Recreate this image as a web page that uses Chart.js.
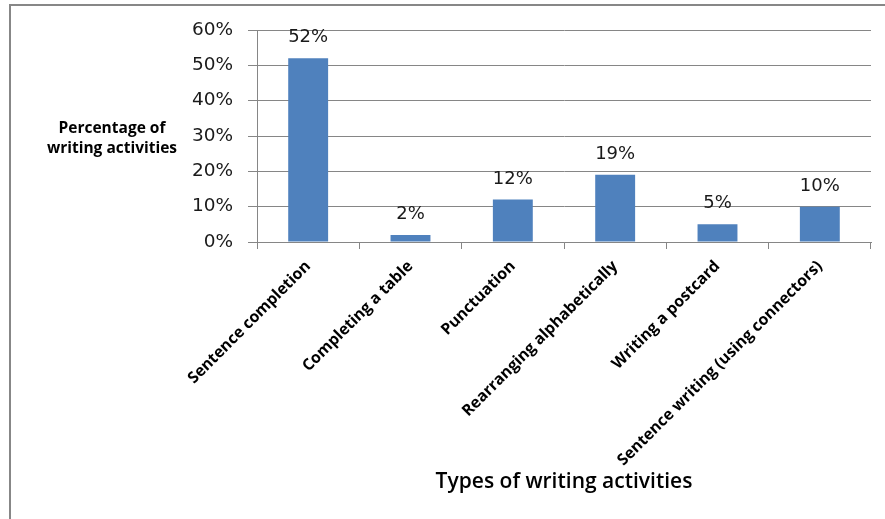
<!DOCTYPE html>
<html>
<head>
<meta charset="utf-8">
<script src="https://cdn.jsdelivr.net/npm/chart.js@4/dist/chart.umd.min.js"></script>
<style>
  html, body { margin: 0; padding: 0; background: #ffffff; }
  #wrap { position: relative; width: 885px; height: 519px; overflow: hidden; }
  #frame { position: absolute; left: 9px; top: 4px; width: 900px; height: 600px;
           border: 2px solid #878787; box-sizing: border-box; }
  #chart { position: absolute; left: 0; top: 0; }
</style>
</head>
<body>
<div id="wrap">
  <div id="frame"></div>
  <canvas id="chart" width="885" height="519"></canvas>
</div>
<script>
// Writing activity types and their share of all writing activities (%)
const categories = [
  'Sentence completion',
  'Completing a table',
  'Punctuation',
  'Rearranging alphabetically',
  'Writing a postcard',
  'Sentence writing (using connectors)'
];
const shares = [52, 2, 12, 19, 5, 10];
const yTicks = [0, 10, 20, 30, 40, 50, 60];
const yTitleLines = ['Percentage of', 'writing activities'];
const xTitle = 'Types of writing activities';

const gridGray = '#868686';

// Value labels above each bar
const valueLabels = {
  id: 'valueLabels',
  afterDatasetsDraw(chart) {
    const ctx = chart.ctx;
    const meta = chart.getDatasetMeta(0);
    ctx.save();
    ctx.font = '18px "DejaVu Sans"';
    ctx.fillStyle = '#1a1a1a';
    ctx.textAlign = 'center';
    ctx.textBaseline = 'alphabetic';
    meta.data.forEach((bar, i) => {
      ctx.fillText(shares[i] + '%', bar.x, bar.y - 16);
    });
    ctx.restore();
  }
};

// Horizontal two-line title left of the value axis
const yAxisTitle = {
  id: 'yAxisTitle',
  afterDraw(chart) {
    const ctx = chart.ctx;
    const area = chart.chartArea;
    const cy = (area.top + area.bottom) / 2;
    ctx.save();
    ctx.font = 'bold 15.5px "Open Sans"';
    ctx.fillStyle = '#000000';
    ctx.textAlign = 'center';
    ctx.textBaseline = 'middle';
    ctx.fillText(yTitleLines[0], 112, cy - 7);
    ctx.fillText(yTitleLines[1], 112, cy + 13);
    ctx.restore();
  }
};

new Chart(document.getElementById('chart'), {
  type: 'bar',
  data: {
    labels: categories,
    datasets: [{
      data: shares,
      backgroundColor: '#4f81bd',
      borderWidth: 0,
      categoryPercentage: 1.0,
      barPercentage: 0.39
    }]
  },
  options: {
    responsive: false,
    animation: false,
    devicePixelRatio: 1,
    layout: { padding: { top: 30, right: 14, left: 0, bottom: 0 } },
    plugins: {
      legend: { display: false },
      tooltip: { enabled: false },
      title: { display: false }
    },
    scales: {
      x: {
        offset: true,
        grid: {
          offset: true,
          drawOnChartArea: false,
          drawTicks: true,
          tickLength: 7,
          color: gridGray
        },
        border: { display: true, color: gridGray, width: 1 },
        ticks: {
          autoSkip: false,
          maxRotation: 45,
          minRotation: 45,
          padding: 8,
          color: '#000000',
          font: { family: '"Open Sans"', size: 15.8, weight: 'bold' }
        },
        title: {
          display: true,
          text: xTitle,
          color: '#000000',
          font: { family: '"Open Sans"', size: 21, weight: '600' },
          padding: { top: 0, bottom: 24 }
        },
        afterFit(scale) { scale.height = 519 - 242; }
      },
      y: {
        min: 0,
        max: 60,
        afterBuildTicks(scale) { scale.ticks = yTicks.map(v => ({ value: v })); },
        grid: {
          color: gridGray,
          lineWidth: 1,
          drawTicks: true,
          tickLength: 9
        },
        border: { display: true, color: gridGray, width: 1 },
        ticks: {
          padding: 15,
          color: '#1a1a1a',
          font: { family: '"DejaVu Sans"', size: 18.5 },
          callback: v => v + '%'
        },
        afterFit(scale) { scale.width = 257; }
      }
    }
  },
  plugins: [valueLabels, yAxisTitle]
});
</script>
</body>
</html>
